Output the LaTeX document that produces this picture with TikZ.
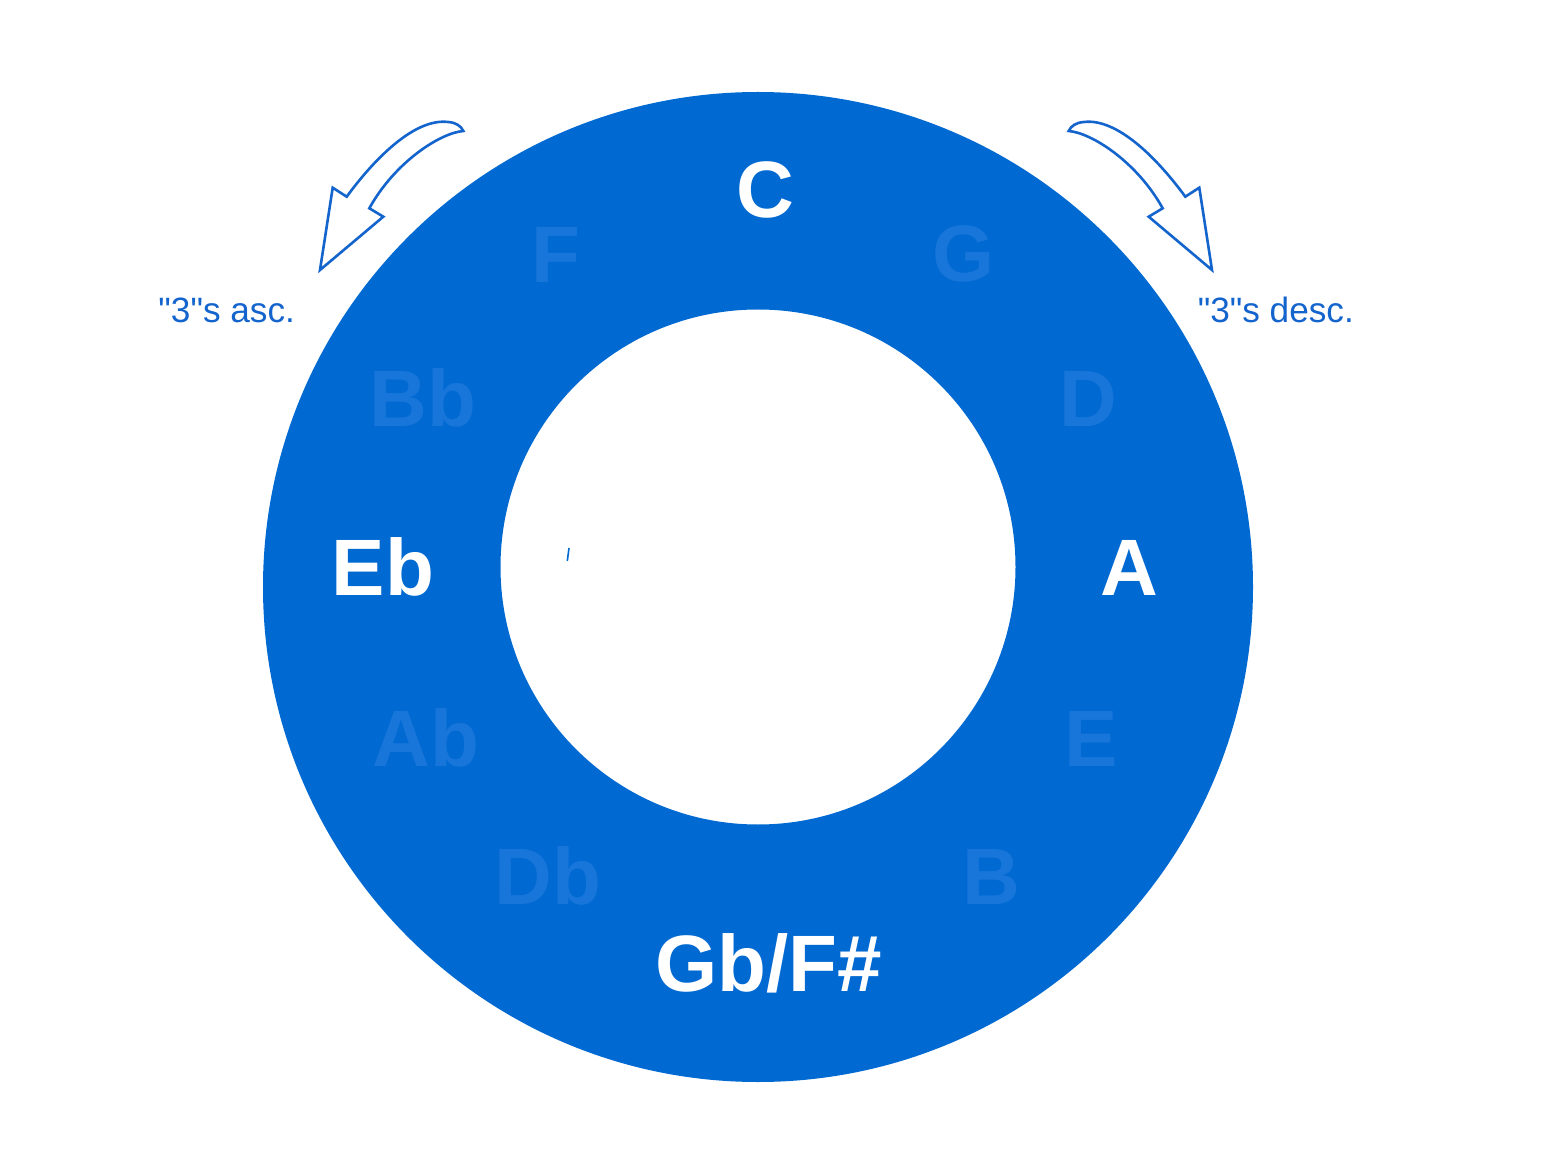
\documentclass[tikz,border=0pt]{standalone}
\usepackage{fontspec}
\setmainfont{Liberation Sans}
\newfontfamily\labelfont{Liberation Sans}
\definecolor{ringblue}{RGB}{0,105,210}
\definecolor{fadeblue}{RGB}{24,118,218}
\definecolor{lineblue}{RGB}{20,100,205}
\begin{document}
\begin{tikzpicture}[x=0.5pt,y=-0.5pt,
  keybig/.style={font=\fontsize{40}{48}\selectfont\bfseries, text=white, inner sep=0pt, anchor=base},
  keyfaint/.style={keybig, text=fadeblue},
  dirlabel/.style={font=\labelfont\fontsize{17.6}{20}\selectfont, text=lineblue, inner sep=0pt, anchor=base},
  hollowarrow/.style={draw=lineblue, line width=1.3pt, fill=white, line join=miter}]
\useasboundingbox (0,0) rectangle (1544,1155);
\fill[white] (0,0) rectangle (1544,1155);
% ring
\fill[ringblue, even odd rule] (758,587) circle[radius=495] (758,567) circle[radius=257.5];
% tiny mark inside the hole
\draw[ringblue, line width=0.8pt] (567.3,561) -- (569,548);
% arrows
\path[hollowarrow] (332.7,187.7) -- (346.7,196.7)
  .. controls (375,158) and (415,118) .. (448,122)
  .. controls (456,122.5) and (461,126) .. (463.3,131)
  .. controls (440,133) and (395,162) .. (369.3,208.3)
  -- (383.3,216.7) -- (320,270) -- cycle;
\begin{scope}[shift={(1532,0)}, xscale=-1]
\path[hollowarrow] (332.7,187.7) -- (346.7,196.7)
  .. controls (375,158) and (415,118) .. (448,122)
  .. controls (456,122.5) and (461,126) .. (463.3,131)
  .. controls (440,133) and (395,162) .. (369.3,208.3)
  -- (383.3,216.7) -- (320,270) -- cycle;
\end{scope}
% labels
\node[dirlabel] (asc) at (226.7,322.5) {"3"s asc.};
\node[dirlabel] (desc) at (1275.8,322.5) {"3"s desc.};
% keys
\node[keybig] (kC) at (765,218) {C};
\node[keyfaint] (kF) at (556,282.7) {F};
\node[keyfaint] (kG) at (964,282) {G};
\node[keyfaint] (kBb) at (423,427) {Bb};
\node[keyfaint] (kD) at (1088.5,427) {D};
\node[keybig] (kEb) at (383,596) {Eb};
\node[keybig] (kA) at (1129,596) {A};
\node[keyfaint] (kAb) at (426,766) {Ab};
\node[keyfaint] (kE) at (1091,766) {E};
\node[keyfaint] (kDb) at (548,904) {Db};
\node[keyfaint] (kB) at (991.6,904) {B};
\node[keybig] (kGb) at (768.6,991) {Gb/F\#};
\end{tikzpicture}
\end{document}
